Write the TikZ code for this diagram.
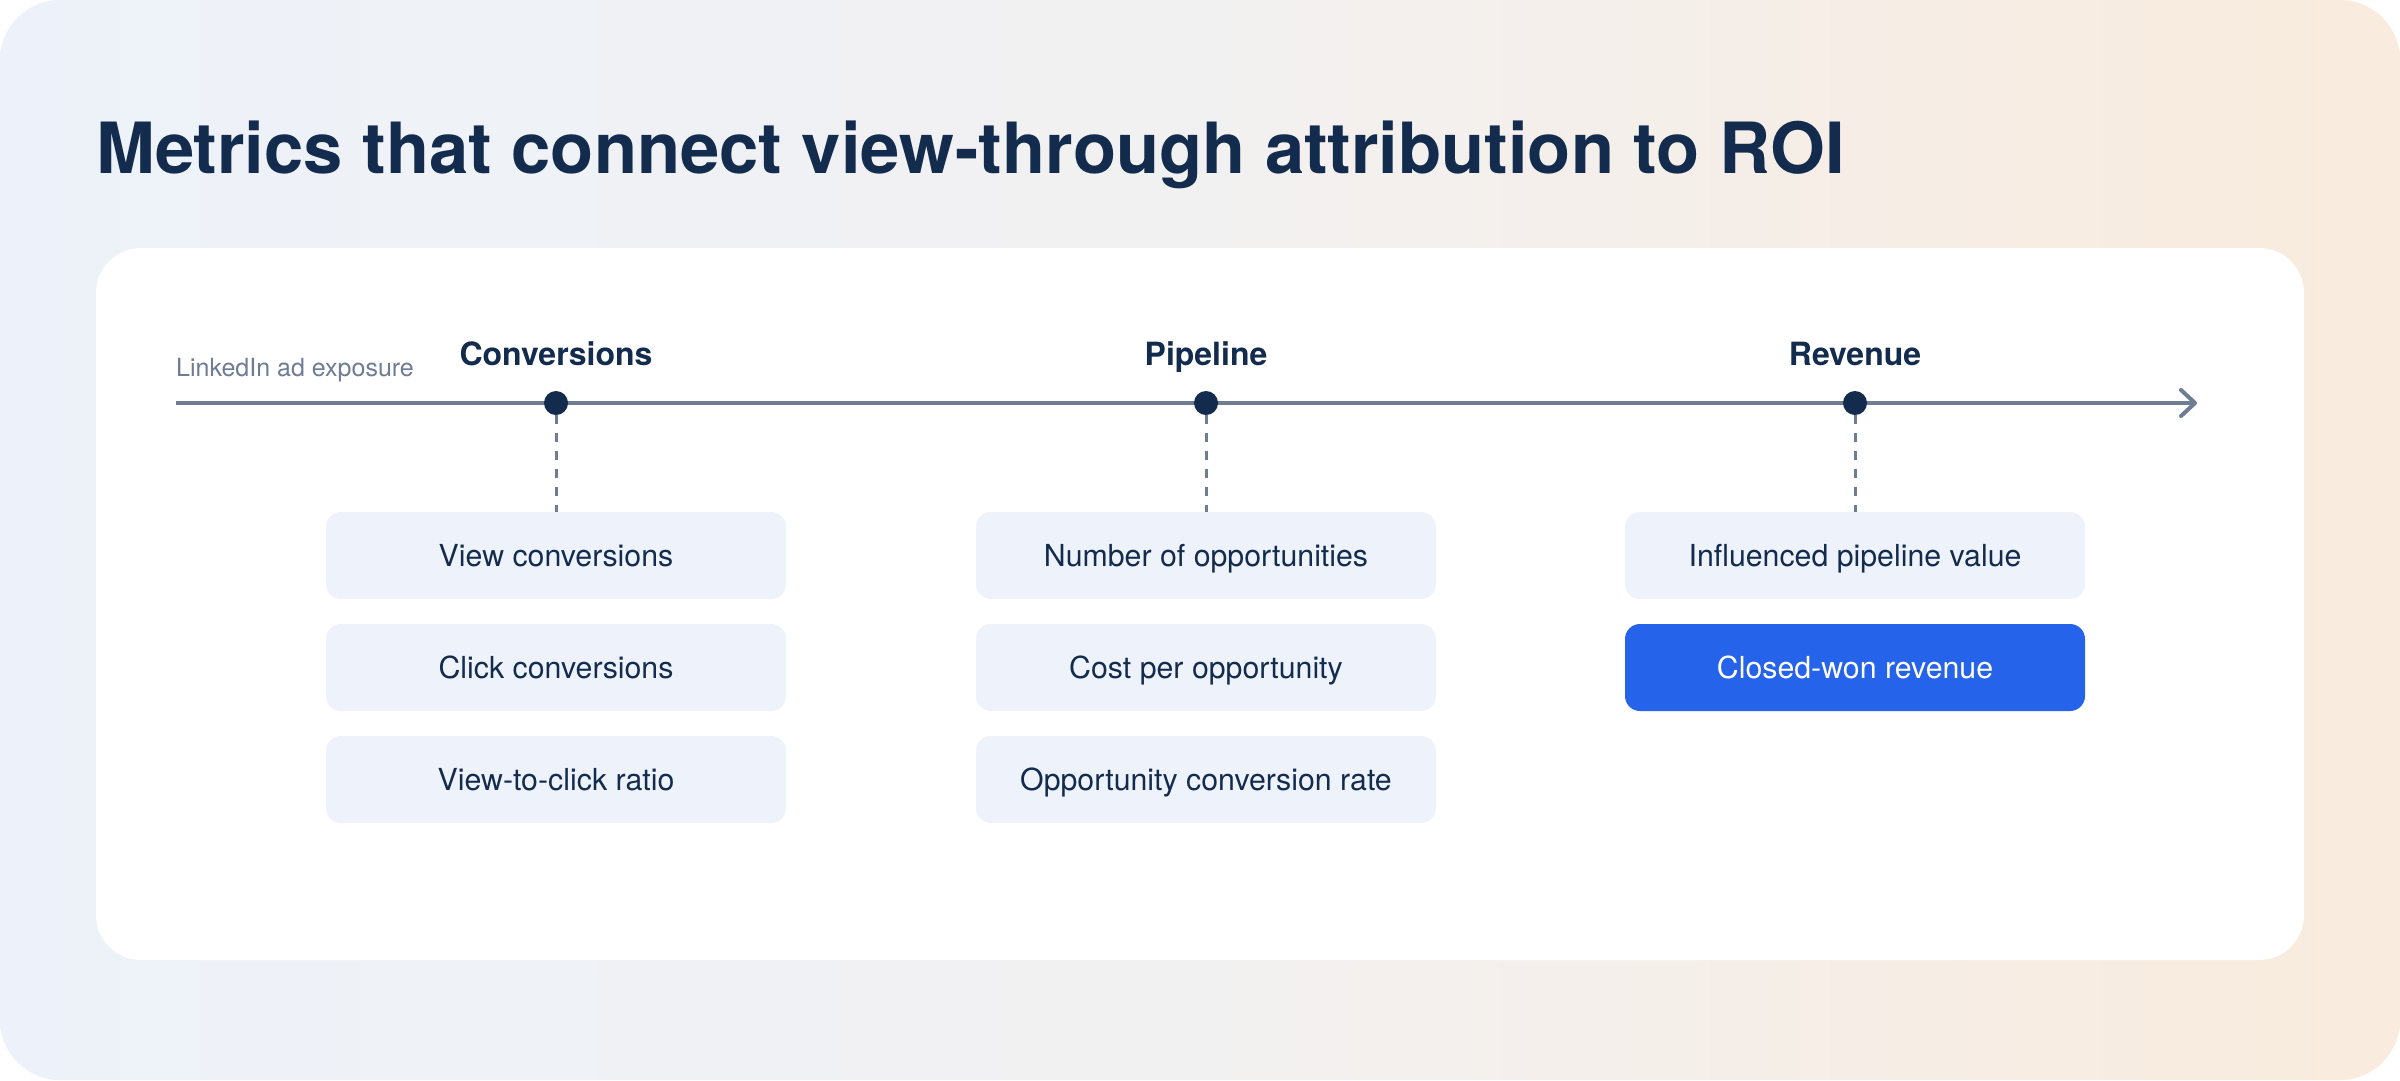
\documentclass[tikz,border=0pt]{standalone}
\usepackage{fontspec}
\setmainfont{TeX Gyre Heros}
\usetikzlibrary{arrows.meta}
\definecolor{navy}{HTML}{132B4D}
\definecolor{slate}{HTML}{6E7C94}
\definecolor{boxfill}{HTML}{EEF3FB}
\definecolor{accent}{HTML}{2563EB}
\definecolor{bgL}{HTML}{EDF2FA}
\definecolor{bgM}{HTML}{F2F1F1}
\definecolor{bgR}{HTML}{F9EBDD}
\tikzset{
  mbox/.style={rounded corners=15pt, fill=boxfill, minimum width=460pt, minimum height=87pt,
    inner sep=0pt, text=navy, font=\fontsize{30.3}{36}\selectfont, text height=21.5pt, text depth=0pt},
  hbox/.style={mbox, fill=accent, text=white},
  stagelbl/.style={anchor=base, inner sep=0pt, text=navy, font=\fontsize{32}{38}\selectfont\bfseries},
  dotnode/.style={circle, fill=navy, minimum size=24pt, inner sep=0pt},
  dashline/.style={draw=slate, line width=3pt, dash pattern=on 9pt off 9pt},
  axisline/.style={draw=slate, line width=4pt}
}
\begin{document}
\begin{tikzpicture}[x=1pt,y=-1pt]
\useasboundingbox (0,0) rectangle (2400,1080);
\fill[white] (0,0) rectangle (2400,1080);
\shade[left color=bgL, right color=bgR, middle color=bgM, rounded corners=60pt] (0,0) rectangle (2400,1080);
\fill[white, rounded corners=45pt] (96,248) rectangle (2304,960);

\node[anchor=base west, inner sep=0pt, text=navy, font=\fontsize{70.6}{84}\selectfont\bfseries] (title) at (96,173)
  {Metrics that connect view-through attribution to ROI};

\coordinate (tlS) at (176,403);
\coordinate (tlE) at (2197,403);
\draw[axisline, -{Straight Barb[length=14pt, width=26pt, round]}] (tlS) -- (tlE);

\node[anchor=base west, inner sep=0pt, text=slate, font=\fontsize{25}{30}\selectfont] (lk) at (176,376) {LinkedIn ad exposure};

\node[dotnode] (d1) at (556,403) {};
\node[dotnode] (d2) at (1206,403) {};
\node[dotnode] (d3) at (1855,403) {};

\node[stagelbl] (s1) at (556,365) {Conversions};
\node[stagelbl] (s2) at (1206,365) {Pipeline};
\node[stagelbl] (s3) at (1855,365) {Revenue};

\node[mbox] (c1) at (556,555.5) {View conversions};
\node[mbox] (c2) at (556,667.5) {Click conversions};
\node[mbox] (c3) at (556,779.5) {View-to-click ratio};

\node[mbox] (p1) at (1206,555.5) {Number of opportunities};
\node[mbox] (p2) at (1206,667.5) {Cost per opportunity};
\node[mbox] (p3) at (1206,779.5) {Opportunity conversion rate};

\node[mbox] (r1) at (1855,555.5) {Influenced pipeline value};
\node[hbox] (r2) at (1855,667.5) {Closed-won revenue};

\draw[dashline] (d1.south) -- (c1.north);
\draw[dashline] (d2.south) -- (p1.north);
\draw[dashline] (d3.south) -- (r1.north);
\end{tikzpicture}
\end{document}
